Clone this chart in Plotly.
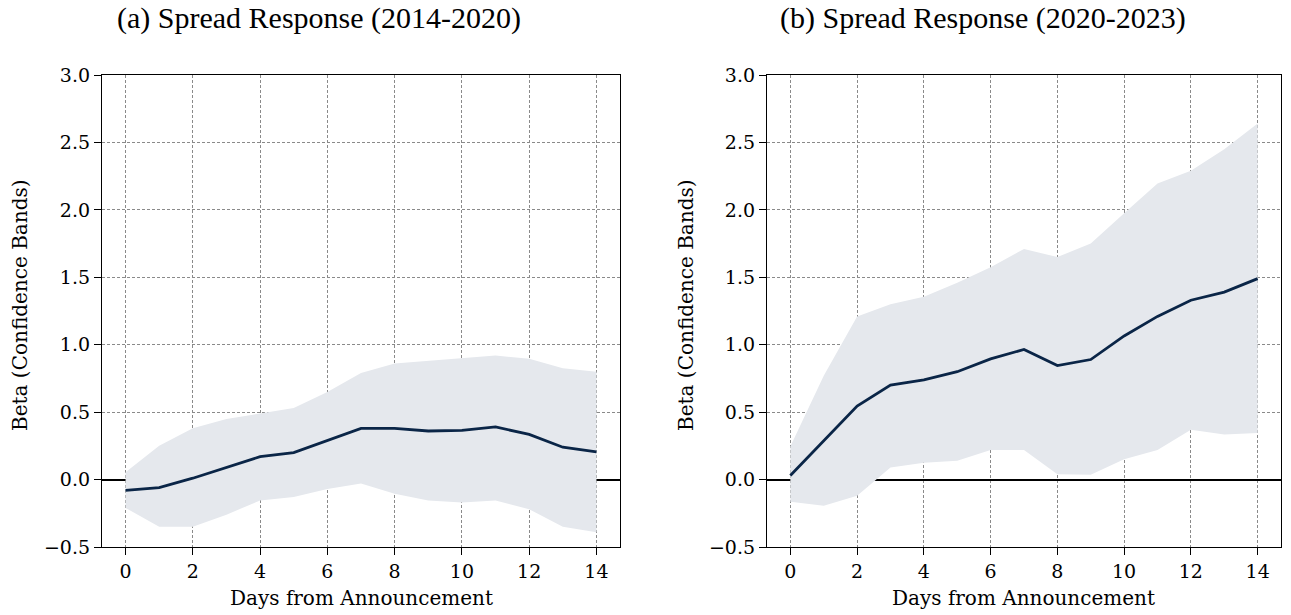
import plotly.graph_objects as go

# Days after the announcement
days = list(range(15))

# Panel (a): 2014-2020
beta_a = [-0.08, -0.06, 0.01, 0.09, 0.17, 0.20, 0.29, 0.38, 0.38, 0.36, 0.365, 0.39, 0.335, 0.24, 0.205]
upper_a = [0.055, 0.25, 0.38, 0.45, 0.49, 0.53, 0.65, 0.79, 0.86, 0.88, 0.90, 0.92, 0.895, 0.825, 0.80]
lower_a = [-0.21, -0.35, -0.35, -0.26, -0.155, -0.13, -0.07, -0.03, -0.105, -0.155, -0.17, -0.155, -0.22, -0.35, -0.39]

# Panel (b): 2020-2023
beta_b = [0.03, 0.29, 0.545, 0.70, 0.74, 0.80, 0.895, 0.965, 0.845, 0.89, 1.065, 1.21, 1.33, 1.39, 1.49]
upper_b = [0.245, 0.77, 1.21, 1.30, 1.355, 1.46, 1.575, 1.71, 1.65, 1.75, 1.975, 2.195, 2.29, 2.45, 2.64]
lower_b = [-0.165, -0.195, -0.12, 0.09, 0.125, 0.14, 0.22, 0.22, 0.04, 0.035, 0.15, 0.22, 0.37, 0.335, 0.345]

titles = ["(a) Spread Response (2014-2020)", "(b) Spread Response (2020-2023)"]
x_ticks = list(range(0, 15, 2))
y_ticks = [-0.5, 0.0, 0.5, 1.0, 1.5, 2.0, 2.5, 3.0]

LINE_COLOR = "#0a2547"
BAND_COLOR = "#e5e8ed"
TICK_FONT = dict(family="DejaVu Serif", size=19, color="black")

W, H = 1291, 615
fig = go.Figure()

panels = [
    (beta_a, upper_a, lower_a, "x", "y"),
    (beta_b, upper_b, lower_b, "x2", "y2"),
]
for beta, up, lo, xa, ya in panels:
    fig.add_trace(go.Scatter(x=days, y=lo, mode="lines", line=dict(width=0),
                             xaxis=xa, yaxis=ya, showlegend=False, hoverinfo="skip"))
    fig.add_trace(go.Scatter(x=days, y=up, mode="lines", line=dict(width=0),
                             fill="tonexty", fillcolor=BAND_COLOR,
                             xaxis=xa, yaxis=ya, showlegend=False, hoverinfo="skip"))
    fig.add_trace(go.Scatter(x=days, y=beta, mode="lines",
                             line=dict(color=LINE_COLOR, width=2.8),
                             xaxis=xa, yaxis=ya, showlegend=False))

x_domains = [[102 / W, 620 / W], [767 / W, 1281 / W]]
y_domain = [1 - 547 / H, 1 - 75 / H]

common_axis = dict(
    showline=True, mirror=True, linecolor="black", linewidth=1.3,
    ticks="outside", ticklen=7, tickwidth=1.2, tickcolor="black",
    showgrid=True, gridcolor="#8a8a8a", gridwidth=0.8, griddash="3px,2px",
    tickfont=TICK_FONT, layer="above traces", automargin=False,
)

layout_axes = {}
for i, dom in enumerate(x_domains):
    suffix = "" if i == 0 else str(i + 1)
    layout_axes["xaxis" + suffix] = dict(
        common_axis, domain=dom, range=[-0.7, 14.7], tickvals=x_ticks,
        zeroline=False, anchor="y" + suffix,
    )
    layout_axes["yaxis" + suffix] = dict(
        common_axis, domain=y_domain, range=[-0.5, 3.0], tickvals=y_ticks,
        tickformat=".1f", zeroline=True, zerolinecolor="black", zerolinewidth=1.5,
        anchor="x" + suffix,
    )

annotations = []
label_font = dict(family="DejaVu Serif", size=20, color="black")
title_font = dict(family="Liberation Serif", size=30, color="black")
title_x = [319 / W, 983 / W]
ylabel_x = [20 / W, 686 / W]
for i in range(2):
    annotations.append(dict(text=titles[i], x=title_x[i], y=1.0, xref="paper", yref="paper",
                            xanchor="center", yanchor="top", borderpad=0,
                            showarrow=False, font=title_font))
    annotations.append(dict(text="Days from Announcement", x=sum(x_domains[i]) / 2, y=1 - 598 / H,
                            xref="paper", yref="paper", xanchor="center", yanchor="middle",
                            showarrow=False, font=label_font))
    annotations.append(dict(text="Beta (Confidence Bands)", x=ylabel_x[i], y=1 - 305 / H,
                            xref="paper", yref="paper", xanchor="center", yanchor="middle",
                            textangle=-90, showarrow=False, font=label_font))

fig.update_layout(
    width=W, height=H, margin=dict(l=0, r=0, t=0, b=0),
    paper_bgcolor="white", plot_bgcolor="white",
    annotations=annotations, **layout_axes,
)

fig.write_html("out.html")
